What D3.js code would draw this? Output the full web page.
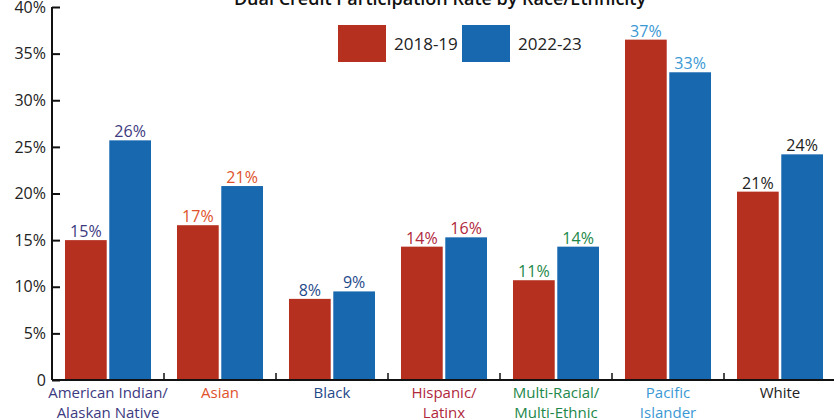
<!DOCTYPE html>
<html>
<head>
<meta charset="utf-8">
<script src="https://cdn.jsdelivr.net/npm/d3@7"></script>
<style>
  body { margin: 0; background: #fff; }
  svg { display: block; font-family: "Open Sans", sans-serif; }
</style>
</head>
<body>
<div id="chart"></div>
<script>
var categories = ["American Indian/\nAlaskan Native", "Asian", "Black", "Hispanic/\nLatinx", "Multi-Racial/\nMulti-Ethnic", "Pacific\nIslander", "White"];
var series = ["2018-19", "2022-23"];
var values1819 = [15.0, 16.6, 8.7, 14.3, 10.7, 36.5, 20.2];
var values2223 = [25.7, 20.8, 9.5, 15.3, 14.3, 33.0, 24.2];
var labels1819 = ["15%", "17%", "8%", "14%", "11%", "37%", "21%"];
var labels2223 = ["26%", "21%", "9%", "16%", "14%", "33%", "24%"];
var yTicks = [0, 5, 10, 15, 20, 25, 30, 35, 40];
var catColors = ["#3c3a80", "#e0522c", "#1f4a8a", "#b0283c", "#22874a", "#3a98d4", "#222222"];

var width = 834, height = 420;
var margin = {top: 7, right: -2, bottom: 40, left: 52};

var svg = d3.select("#chart").append("svg")
  .attr("width", width)
  .attr("height", height);

var x = d3.scaleBand()
  .domain(categories)
  .range([margin.left, width - margin.right])
  .paddingInner(0.232)
  .paddingOuter(0.116);

var xs = d3.scaleBand()
  .domain(series)
  .range([0, x.bandwidth()])
  .paddingInner(0.058);

var y = d3.scaleLinear()
  .domain([0, 40])
  .range([height - margin.bottom, margin.top]);

var color = d3.scaleOrdinal().domain(series).range(["#b5301f", "#1868b0"]);

var data = categories.map((c, i) => ({
  cat: c, i: i,
  vals: [
    {s: series[0], v: values1819[i], lab: labels1819[i]},
    {s: series[1], v: values2223[i], lab: labels2223[i]}
  ]
}));

// bars
var groups = svg.append("g").selectAll("g")
  .data(data).enter().append("g")
  .attr("transform", d => "translate(" + x(d.cat) + ",0)");

groups.selectAll("rect")
  .data(d => d.vals).enter().append("rect")
  .attr("x", d => xs(d.s))
  .attr("y", d => y(d.v))
  .attr("width", xs.bandwidth())
  .attr("height", d => y(0) - y(d.v))
  .style("fill", d => color(d.s));

groups.each(function(d) {
  d3.select(this).selectAll("text.val")
    .data(d.vals).enter().append("text")
    .attr("class", "val")
    .attr("x", v => xs(v.s) + xs.bandwidth() / 2)
    .attr("y", v => y(v.v) - 3)
    .attr("text-anchor", "middle")
    .style("font-size", "16px")
    .style("fill", catColors[d.i])
    .text(v => v.lab);
});

// y axis
var yAxis = svg.append("g")
  .attr("transform", "translate(" + margin.left + ",0)")
  .call(d3.axisRight(y).tickValues(yTicks).tickSize(8).tickFormat(d => d === 0 ? "0" : d + "%"));
yAxis.select(".domain").attr("stroke", "#111").attr("stroke-width", 2).attr("d", "M0," + y(0) + "V" + y(40));
yAxis.selectAll(".tick line").attr("stroke", "#111").attr("stroke-width", 2);
yAxis.selectAll(".tick text")
  .attr("x", -6)
  .attr("text-anchor", "end")
  .style("font-size", "16px")
  .style("fill", "#222")
  .style("font-family", "Open Sans, sans-serif");

// x axis baseline with inner ticks between categories
var xAxis = svg.append("g");
xAxis.append("line")
  .attr("x1", margin.left).attr("x2", width)
  .attr("y1", y(0)).attr("y2", y(0))
  .attr("stroke", "#111").attr("stroke-width", 2);
var step = x.step();
xAxis.selectAll("line.tk")
  .data(categories.slice(0, -1)).enter().append("line")
  .attr("class", "tk")
  .attr("x1", d => x(d) + x.bandwidth() + step * x.paddingInner() / 2)
  .attr("x2", d => x(d) + x.bandwidth() + step * x.paddingInner() / 2)
  .attr("y1", y(0)).attr("y2", y(0) - 7)
  .attr("stroke", "#111").attr("stroke-width", 1.5);

xAxis.selectAll("text.cat")
  .data(data).enter().append("text")
  .attr("class", "cat")
  .attr("text-anchor", "middle")
  .attr("x", d => x(d.cat) + x.bandwidth() / 2)
  .attr("y", y(0) + 18)
  .style("font-size", "15px")
  .style("fill", d => catColors[d.i])
  .each(function(d) {
    var lines = d.cat.split("\n");
    d3.select(this).selectAll("tspan").data(lines).enter().append("tspan")
      .attr("x", x(d.cat) + x.bandwidth() / 2)
      .attr("dy", (l, k) => k === 0 ? 0 : 20)
      .text(l => l);
  });

// title
svg.append("text")
  .attr("x", 440).attr("y", 5)
  .attr("text-anchor", "middle")
  .style("font-size", "18px")
  .style("font-weight", "600")
  .style("fill", "#111")
  .text("Dual Credit Participation Rate by Race/Ethnicity");

// legend
var legend = svg.append("g").selectAll("g")
  .data(series).enter().append("g")
  .attr("transform", (d, i) => "translate(" + (338 + i * 124) + ",25)");
legend.append("rect")
  .attr("width", 48).attr("height", 37)
  .style("fill", d => color(d));
legend.append("text")
  .attr("x", 56).attr("y", 25)
  .style("font-size", "17px")
  .style("fill", "#222")
  .text(d => d);
</script>
</body>
</html>
